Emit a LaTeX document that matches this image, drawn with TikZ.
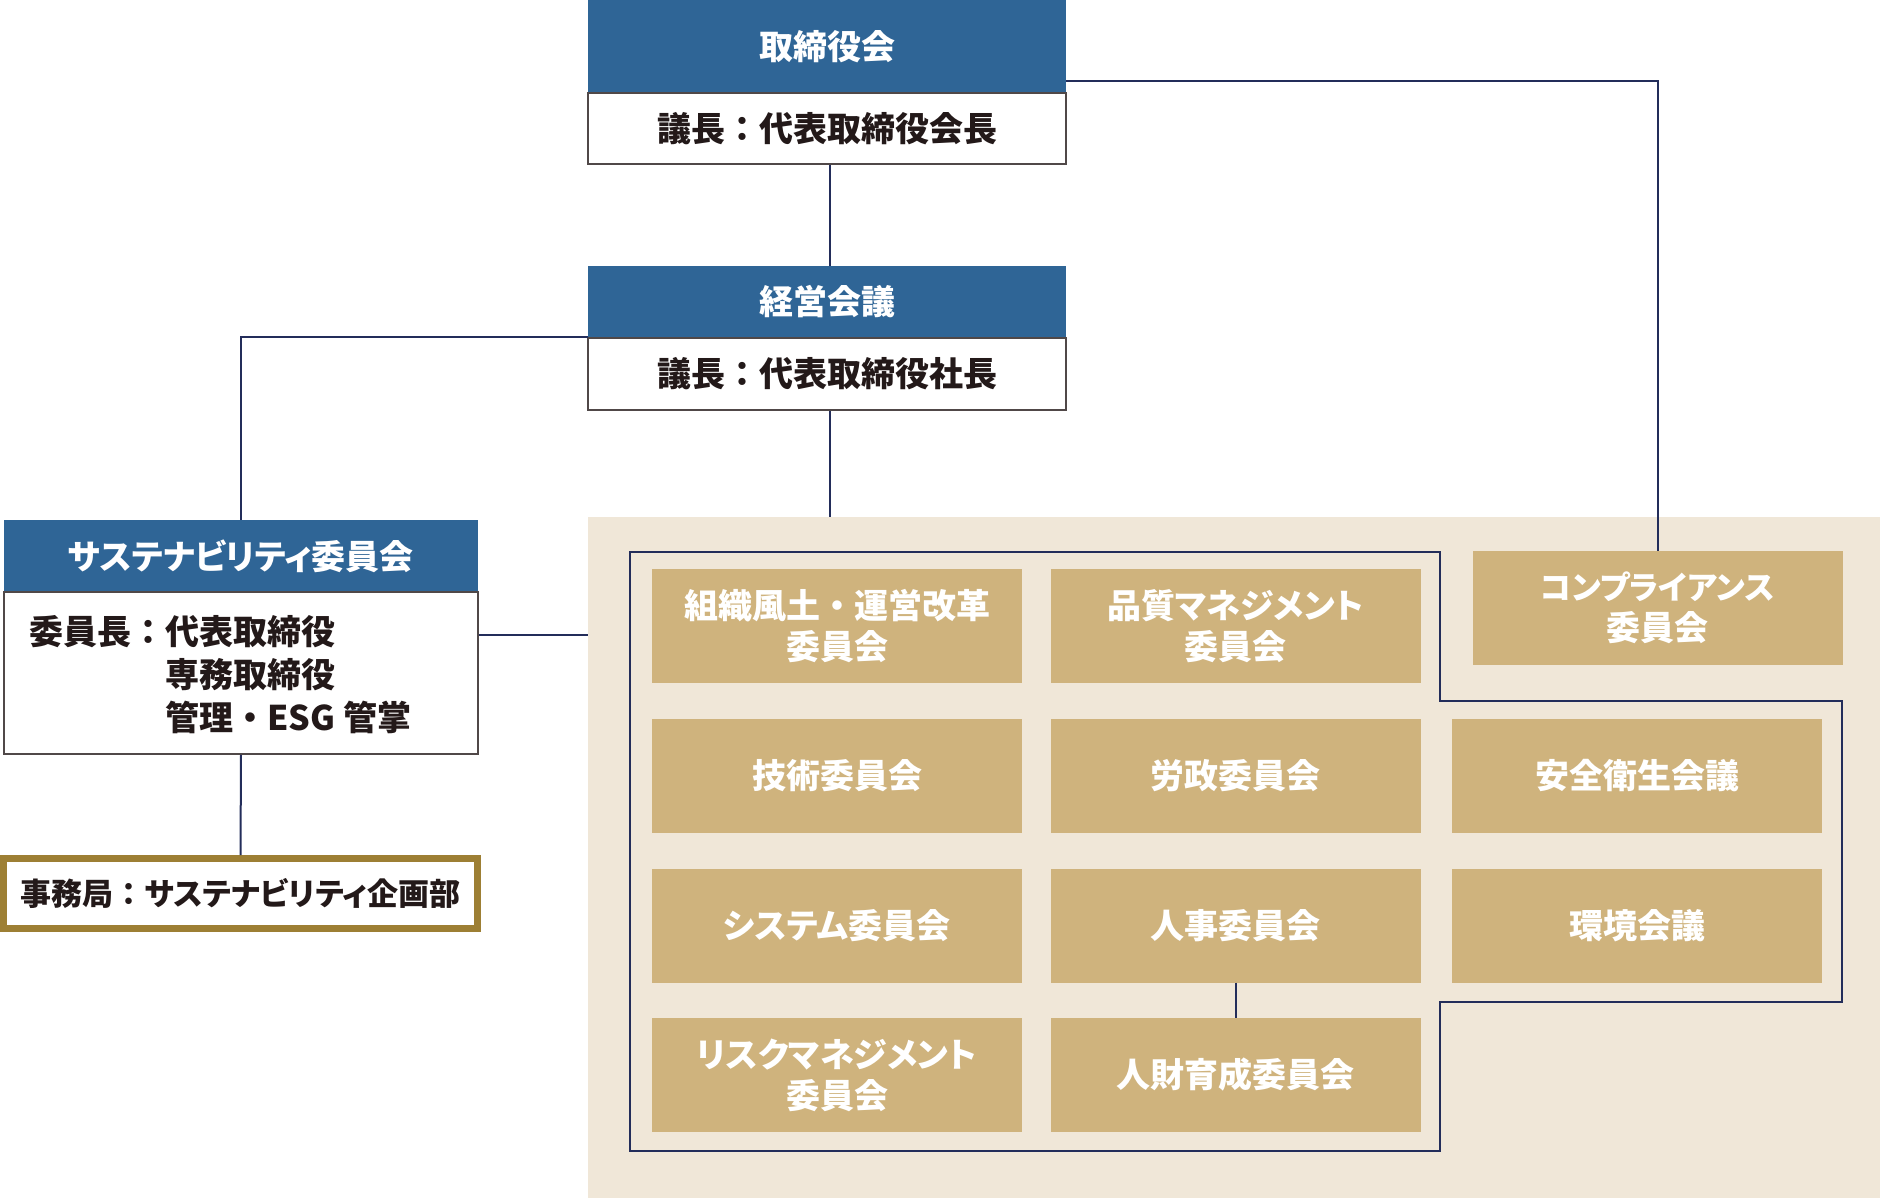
\documentclass[tikz,border=0pt]{standalone}
\usepackage{fontspec}
\setmainfont{Noto Sans CJK JP}[RawFeature=+palt]
\newfontfamily\fwfont{Noto Sans CJK JP}
\newcommand{\fcolon}{{\fwfont\bfseries ：}}
\newcommand{\fdot}{{\fwfont\bfseries ・}}
\definecolor{hdrblue}{RGB}{47,101,150}
\definecolor{navy}{RGB}{35,45,90}
\definecolor{goldbox}{RGB}{207,179,125}
\definecolor{beige}{RGB}{240,231,216}
\definecolor{secgold}{RGB}{157,127,52}
\definecolor{boxline}{RGB}{80,72,72}
\definecolor{txt}{RGB}{35,25,25}
\begin{document}
\begin{tikzpicture}[x=1pt,y=-1pt,
  hdr/.style={fill=hdrblue, text=white, inner sep=0pt, minimum width=478pt,
    font=\bfseries\fontsize{34}{40}\selectfont},
  body/.style={draw=boxline, fill=white, line width=1.5pt, text=txt, inner sep=0pt,
    minimum width=478pt, font=\bfseries\fontsize{34}{40}\selectfont},
  gbox/.style={fill=goldbox, text=white, inner sep=0pt, align=center,
    minimum width=370pt, minimum height=114pt,
    font=\bfseries\fontsize{34}{41}\selectfont},
  conn/.style={draw=navy, line width=2pt},
  frame/.style={draw=navy, line width=1.5pt}]
\useasboundingbox (0,0) rectangle (1880,1198);
% background panel
\fill[beige] (588,517) rectangle (1880,1198);
\coordinate (bgtop) at (830,517);
\coordinate (bgw) at (588,635);
% top boxes
\node[hdr, minimum height=93pt] (bodh) at (827,46.5) {取締役会};
\node[body, minimum height=71pt] (bodb) at (827,128.5) {議長\fcolon 代表取締役会長};
\node[hdr, minimum height=72pt] (mmh) at (827,302) {経営会議};
\node[body, minimum height=72pt] (mmb) at (827,374) {議長\fcolon 代表取締役社長};
% sustainability
\node[hdr, minimum width=474pt, minimum height=72pt] (sush) at (241,556) {サステナビリティ委員会};
\node[body, minimum width=474pt, minimum height=162pt] (susb) at (241,673) {};
\node[anchor=west, align=left, inner sep=0pt, text=txt,
  font=\bfseries\fontsize{34}{43}\selectfont] (sust) at (29,675)
  {委員長\fcolon 代表取締役\\\hspace*{4em}専務取締役\\\hspace*{4em}管理\fdot ESG 管掌};
\node[draw=secgold, line width=7pt, fill=white, text=txt, inner sep=0pt,
  minimum width=474pt, minimum height=70pt,
  font=\bfseries\fontsize{31}{40}\selectfont] (sec) at (240.5,893.5) {事務局\fcolon サステナビリティ企画部};
% committee frame
\draw[frame] (630,552) -- (1440,552) -- (1440,701) -- (1842,701) -- (1842,1002)
  -- (1440,1002) -- (1440,1151) -- (630,1151) -- cycle;
% committees
\node[gbox] (r1c1) at (837,626) {組織風土\fdot 運営改革\\委員会};
\node[gbox] (r1c2) at (1235.5,626) {品質マネジメント\\委員会};
\node[gbox] (comp) at (1657.5,608) {{\fontsize{32}{41}\selectfont コンプライアンス}\\委員会};
\node[gbox] (r2c1) at (837,776) {技術委員会};
\node[gbox] (r2c2) at (1235.5,776) {労政委員会};
\node[gbox] (r2c3) at (1637,776) {安全衛生会議};
\node[gbox] (r3c1) at (837,925.5) {システム委員会};
\node[gbox] (r3c2) at (1235.5,925.5) {人事委員会};
\node[gbox] (r3c3) at (1637,925.5) {環境会議};
\node[gbox] (r4c1) at (837,1075) {リスクマネジメント\\委員会};
\node[gbox] (r4c2) at (1235.5,1075) {人財育成委員会};
% connectors
\draw[conn] (bodb.south -| bgtop) -- (mmh.north -| bgtop);
\draw[conn] ([yshift=12pt]bodh.south east) -| (comp.north);
\draw[conn] ([yshift=1pt]mmh.south west) -| (sush.north);
\draw[conn] (mmb.south -| bgtop) -- (bgtop);
\draw[conn] (susb.east |- bgw) -- (bgw);
\draw[conn] (susb.south) -- (sec.north);
\draw[conn] (r3c2.south) -- (r4c2.north);
\end{tikzpicture}
\end{document}
